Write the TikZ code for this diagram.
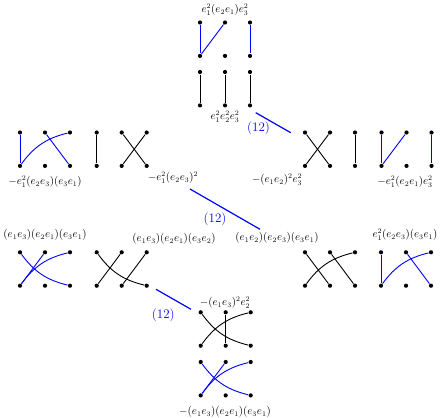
\documentclass[tikz,border=0pt]{standalone}
\usepackage{amsmath}
\usepackage{amssymb}
\usepackage{xcolor}
\usetikzlibrary{positioning, arrows}

\begin{document}
\begin{tikzpicture}[-, x=1pt, y=-1pt, line width=0.9pt,
		dot/.style={circle, fill=black, inner sep=0pt, minimum size=4.2pt},
		lbl/.style={inner sep=0pt, font=\fontsize{10.5}{12}\selectfont},
		swap/.style={blue, line width=1.2pt},
		swaplbl/.style={blue, inner sep=0pt, font=\fontsize{13}{15}\selectfont}]
			\useasboundingbox (0,0) rectangle (441,417);
			
			% six dots for every diagram
			\foreach \n/\x/\y in {A/200/22.5, B/200/72, C/20/132.5, D/96.7/132.5,
				E/305/132.5, F/381.5/132.5, G/20/252.3, H/96.7/252.3,
				I/305/252.3, J/381/252.3, K/200.7/312.3, L/200.7/362}
			{
				\foreach \i in {1,2,3}
				{
					\node[dot] (\n t\i) at (\x+25*\i-25, \y) {};
					\node[dot] (\n b\i) at (\x+25*\i-25, \y+33.4) {};
				}
			}
			
			% top
			\draw[blue] (At1) edge[] (Ab1) (At2) edge[] (Ab1) (At3) edge[] (Ab3);
			\draw (Bt1) edge[] (Bb1) (Bt2) edge[] (Bb2) (Bt3) edge[] (Bb3);
			
			% second row
			\draw[blue] (Ct1) edge[] (Cb1) (Ct2) edge[] (Cb3) (Cb1) edge[bend left=20] (Ct3);
			\draw (Dt1) edge[] (Db1) (Dt2) edge[] (Db3) (Dt3) edge[] (Db2);
			\draw (Et1) edge[] (Eb2) (Et2) edge[] (Eb1) (Et3) edge[] (Eb3);
			\draw[blue] (Ft1) edge[] (Fb1) (Ft2) edge[] (Fb1) (Ft3) edge[] (Fb3);
			
			% third row
			\draw[blue] (Gt1) edge[bend right=20] (Gb3) (Gt2) edge[] (Gb1) (Gb1) edge[bend left=20] (Gt3);
			\draw (Ht1) edge[bend right=20] (Hb3) (Ht2) edge[] (Hb1) (Ht3) edge[] (Hb2);
			\draw (It1) edge[] (Ib2) (It2) edge[] (Ib3) (Ib1) edge[bend left=20] (It3);
			\draw[blue] (Jt1) edge[] (Jb1) (Jt2) edge[] (Jb3) (Jb1) edge[bend left=20] (Jt3);
			
			% bottom
			\draw (Kt1) edge[bend right=20] (Kb3) (Kt2) edge[] (Kb2) (Kb1) edge[bend left=20] (Kt3);
			\draw[blue] (Lt1) edge[bend right=20] (Lb3) (Lt2) edge[] (Lb1) (Lb1) edge[bend left=20] (Lt3);
			
			% labels
			\node[lbl] (Alabel) at (225,10) {$e_1^2(e_2e_1)e_3^2$};
			\node[lbl] (Blabel) at (225,117) {$e_1^2e_2^2e_3^2$};
			\node[lbl] (Clabel) at (45,182) {$-e_1^2(e_2e_3)(e_3e_1)$};
			\node[lbl] (Dlabel) at (173,178) {$-e_1^2(e_2e_3)^2$};
			\node[lbl] (Elabel) at (277,180) {$-(e_1e_2)^2e_3^2$};
			\node[lbl] (Flabel) at (405,182) {$-e_1^2(e_2e_1)e_3^2$};
			\node[lbl] (Glabel) at (45,235) {$(e_1e_3)(e_2e_1)(e_3e_1)$};
			\node[lbl] (Hlabel) at (174,239) {$(e_1e_3)(e_2e_1)(e_3e_2)$};
			\node[lbl] (Ilabel) at (277,238) {$(e_1e_2)(e_2e_3)(e_3e_1)$};
			\node[lbl] (Jlabel) at (405,235) {$e_1^2(e_2e_3)(e_3e_1)$};
			\node[lbl] (Klabel) at (225,302.7) {$-(e_1e_3)^2e_2^2$};
			\node[lbl] (Llabel) at (225,411.7) {$-(e_1e_3)(e_2e_1)(e_3e_1)$};
			
			% the (12) moves
			\coordinate (s1a) at (255.7,112.7);
			\coordinate (s1b) at (290.7,132.7);
			\coordinate (s2a) at (190,189);
			\coordinate (s2b) at (260,229.3);
			\coordinate (s3a) at (156,289.3);
			\coordinate (s3b) at (191,309.3);
			\draw[swap] (s1a) -- (s1b);
			\draw[swap] (s2a) -- (s2b);
			\draw[swap] (s3a) -- (s3b);
			\node[swaplbl] (s1) at (258.5,128.5) {(12)};
			\node[swaplbl] (s2) at (215,219) {(12)};
			\node[swaplbl] (s3) at (163.3,315) {(12)};
		\end{tikzpicture}
\end{document}
